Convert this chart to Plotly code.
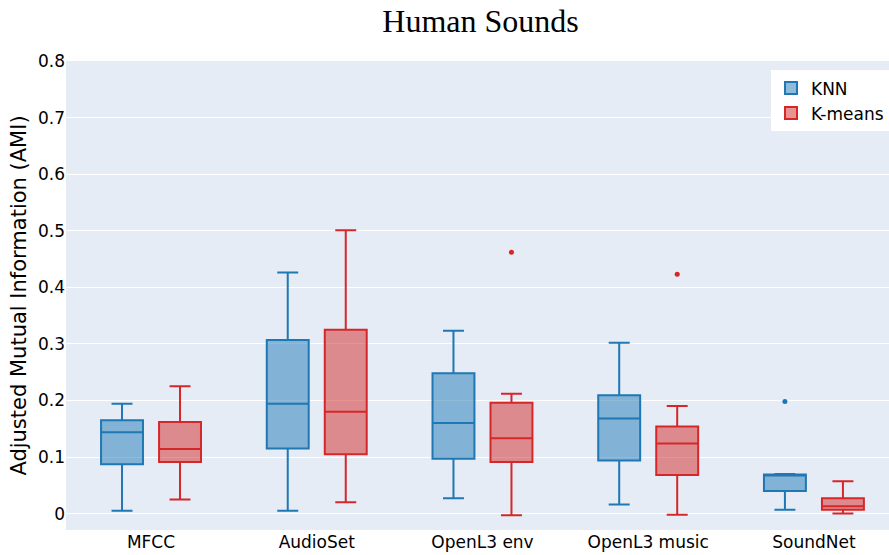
import plotly.graph_objects as go

categories = ["MFCC", "AudioSet", "OpenL3 env", "OpenL3 music", "SoundNet"]

knn_lower = [0.005, 0.005, 0.027, 0.016, 0.007]
knn_q1 = [0.087, 0.115, 0.097, 0.094, 0.040]
knn_median = [0.144, 0.194, 0.160, 0.168, 0.069]
knn_q3 = [0.165, 0.307, 0.248, 0.209, 0.069]
knn_upper = [0.194, 0.426, 0.323, 0.302, 0.070]
knn_outliers = {4: [0.198]}

km_lower = [0.025, 0.020, -0.003, -0.002, 0.000]
km_q1 = [0.091, 0.105, 0.091, 0.068, 0.007]
km_median = [0.114, 0.180, 0.133, 0.124, 0.013]
km_q3 = [0.162, 0.325, 0.196, 0.154, 0.027]
km_upper = [0.225, 0.501, 0.212, 0.190, 0.057]
km_outliers = {2: [0.462], 3: [0.423]}

y_ticks = [0, 0.1, 0.2, 0.3, 0.4, 0.5, 0.6, 0.7, 0.8]

OFFSET = 0.175
BOXW = 0.253

fig = go.Figure()
series = [
    ("KNN", "#1f77b4", -OFFSET, knn_lower, knn_q1, knn_median, knn_q3, knn_upper, knn_outliers),
    ("K-means", "#d62728", OFFSET, km_lower, km_q1, km_median, km_q3, km_upper, km_outliers),
]
for name, color, off, lo, q1, med, q3, up, outl in series:
    xs = [i + off for i in range(len(categories))]
    fig.add_trace(go.Box(
        name=name, x=xs, q1=q1, median=med, q3=q3, lowerfence=lo, upperfence=up,
        width=BOXW, line=dict(color=color, width=2), marker=dict(color=color),
        whiskerwidth=0.5, legendgroup=name, boxpoints=False,
    ))
    ox, oy = [], []
    for i, vals in outl.items():
        for v in vals:
            ox.append(i + off)
            oy.append(v)
    fig.add_trace(go.Scatter(
        x=ox, y=oy, mode="markers", marker=dict(color=color, size=5),
        showlegend=False, legendgroup=name, hoverinfo="y",
    ))

fig.update_layout(
    width=889, height=555,
    template="plotly",
    margin=dict(l=66, r=0, t=61, b=25),
    title=dict(text="Human Sounds", x=0.5405, xanchor="center", y=0.962, yanchor="middle",
               font=dict(family="Liberation Serif, Times New Roman, serif", size=32, color="black")),
    font=dict(family="DejaVu Sans, sans-serif", size=17, color="#222"),
    legend=dict(x=1, xanchor="right", y=0.98, yanchor="top", bgcolor="white",
                tracegroupgap=0, font=dict(size=17, color="black")),
    xaxis=dict(tickmode="array", tickvals=list(range(len(categories))), ticktext=categories,
               range=[-0.513, 4.453], showgrid=False, zeroline=False,
               tickfont=dict(size=17, color="black")),
    yaxis=dict(range=[-0.029, 0.8], tickvals=y_ticks, ticktext=[("%g" % v) for v in y_ticks],
               title=dict(text="Adjusted Mutual Information (AMI)", font=dict(size=21, color="black"), standoff=5),
               tickfont=dict(size=17, color="black"), zeroline=False),
)

fig.write_html("out.html")
